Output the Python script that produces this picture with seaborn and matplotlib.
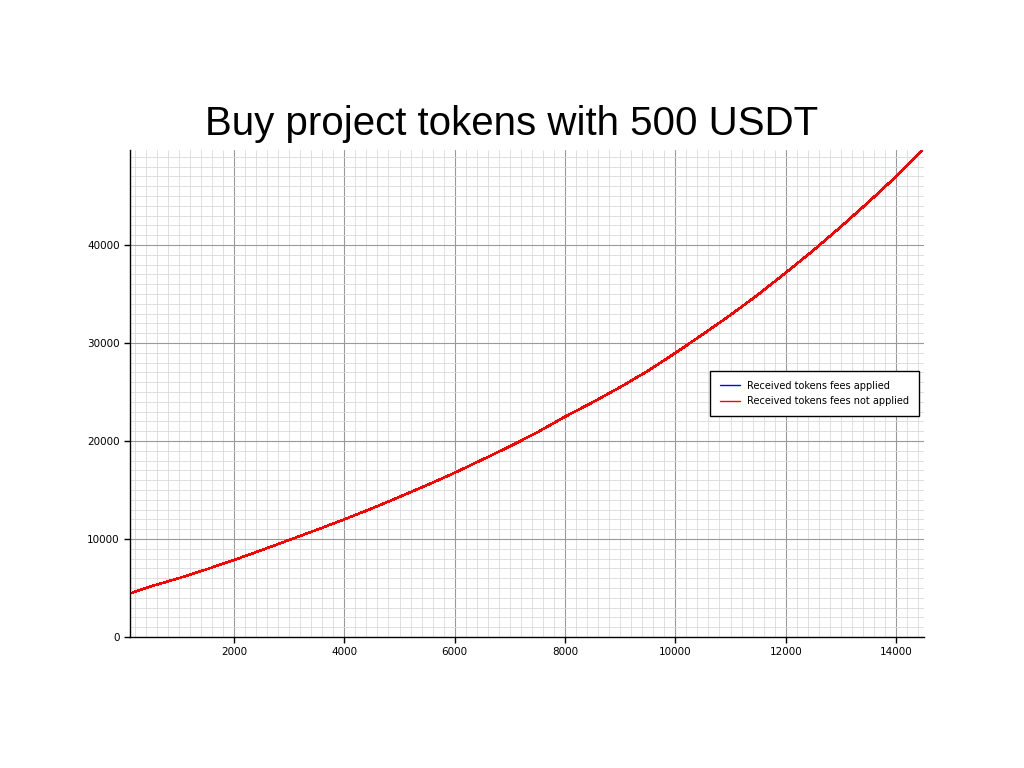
import matplotlib
matplotlib.use("Agg")
import matplotlib.pyplot as plt
import seaborn as sns
import pandas as pd
from matplotlib.ticker import MultipleLocator

# Values
usdt_in_pool = [115, 500, 1000, 1500, 2000, 2500, 3000, 3500, 4000, 4500, 5000,
                5500, 6000, 6500, 7000, 7500, 8000, 8500, 9000, 9500, 10000,
                10500, 11000, 11500, 12000, 12500, 13000, 13500, 14000, 14471]
tokens_fees_applied = [4440, 5180, 6000, 6900, 7860, 8860, 9900, 10940, 12000, 13120, 14300,
                       15510, 16760, 18100, 19450, 20900, 22480, 23950, 25500, 27150, 28980,
                       30900, 32860, 34950, 37170, 39450, 41870, 44380, 46990, 49640]
tokens_fees_not_applied = [4440, 5180, 6000, 6900, 7860, 8860, 9900, 10940, 12000, 13120, 14300,
                           15510, 16760, 18100, 19450, 20900, 22480, 23950, 25500, 27150, 28980,
                           30900, 32860, 34950, 37170, 39450, 41870, 44380, 46990, 49640]
x_ticks = [2000, 4000, 6000, 8000, 10000, 12000, 14000]
y_ticks = [0, 10000, 20000, 30000, 40000]
title = "Buy project tokens with 500 USDT"
label_applied = "Received tokens fees applied"
label_not_applied = "Received tokens fees not applied"

sns.set_style("ticks")
plt.rcParams['font.family'] = ['DejaVu Sans']
plt.rcParams['text.color'] = 'black'
plt.rcParams['xtick.color'] = 'black'
plt.rcParams['ytick.color'] = 'black'

df = pd.DataFrame({
    "x": usdt_in_pool + usdt_in_pool,
    "y": tokens_fees_applied + tokens_fees_not_applied,
    "series": [label_applied] * len(usdt_in_pool) + [label_not_applied] * len(usdt_in_pool),
})

fig = plt.figure(figsize=(10.24, 7.68), dpi=100)
ax = fig.add_axes([130 / 1024, 1 - 637 / 768, (924 - 130) / 1024, (637 - 150) / 768])

sns.lineplot(data=df, x="x", y="y", hue="series",
             palette={label_applied: "blue", label_not_applied: "red"},
             linewidth=1.1, antialiased=False, ax=ax, legend=True)

ax.set_xlim(115, 14507)
ax.set_ylim(0, 49700)
ax.set_xticks(x_ticks)
ax.set_yticks(y_ticks)
ax.xaxis.set_minor_locator(MultipleLocator(200))
ax.yaxis.set_minor_locator(MultipleLocator(1000))
ax.grid(which="major", color="#9a9a9a", linewidth=0.8)
ax.grid(which="minor", color="#dadada", linewidth=0.6)
ax.set_axisbelow(True)
ax.tick_params(axis="both", which="major", labelsize=7.5, length=4, width=1,
               color="black", labelcolor="black")
ax.tick_params(axis="both", which="minor", length=0)
ax.set_xlabel("")
ax.set_ylabel("")
for s in ["top", "right"]:
    ax.spines[s].set_visible(False)
for s in ["left", "bottom"]:
    ax.spines[s].set_color("black")
    ax.spines[s].set_linewidth(1.0)

leg = ax.legend(loc="center right", fontsize=7, frameon=True, fancybox=False,
                edgecolor="black", framealpha=1.0, borderpad=1.0, handlelength=2.0,
                labelspacing=0.6)
leg.get_frame().set_linewidth(1.0)
for line in leg.get_lines():
    line.set_linewidth(1.0)

fig.text(0.5, 1 - 124 / 768, title, fontsize=29, color="black",
         family=["Liberation Sans", "DejaVu Sans"], ha="center", va="center")

fig.savefig("out.png", dpi=100)
